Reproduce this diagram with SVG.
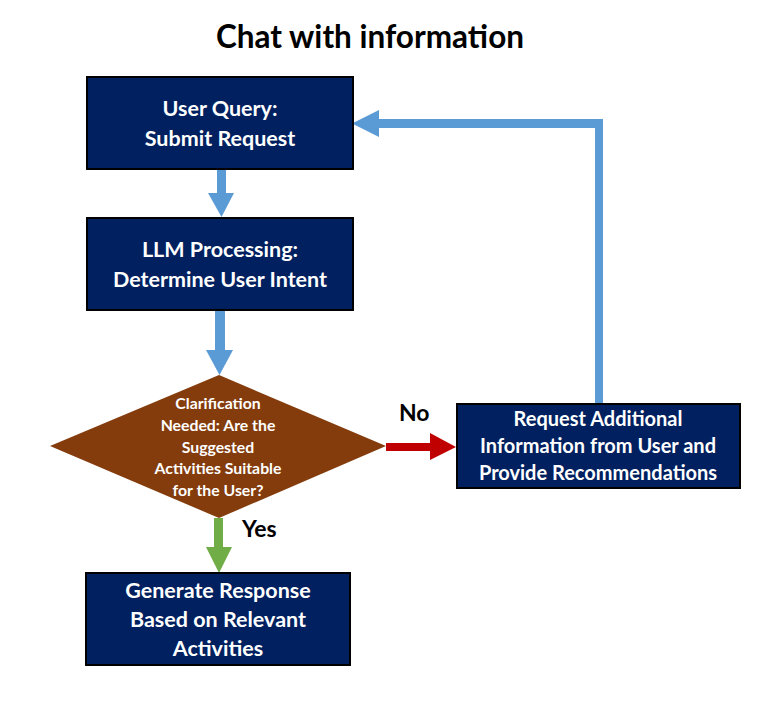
<svg xmlns="http://www.w3.org/2000/svg" width="768" height="703" viewBox="0 0 768 703">
<style>
.box{fill:#002060;stroke:#000;stroke-width:2}
.t{font-family:Lato,"Liberation Sans",sans-serif;font-weight:bold;fill:#fff;text-anchor:middle}
.b{font-size:21.5px}
.d{font-size:15.8px}
.lbl{font-family:Lato,"Liberation Sans",sans-serif;font-weight:bold;fill:#000;font-size:23px}
</style>
<rect width="768" height="703" fill="#fff"/>
<text x="370" y="48" class="lbl" style="font-size:31.5px" text-anchor="middle">Chat with information</text>
<g id="connectors">
<polygon fill="#5B9BD5" points="217,169 226,169 226,193 234,193 221.5,217 208,193 217,193"/>
<polygon fill="#5B9BD5" points="215,310 225,310 225,350 233,350 219.5,375 206,350 215,350"/>
<polygon fill="#C00000" points="386,443 430,443 430,433 456,447 430,460 430,451 386,451"/>
<polygon fill="#70AD47" points="214,518 223,518 223,547 232,547 219,573 206,547 214,547"/>
<polygon fill="#5B9BD5" points="595,404 603,404 603,119 379,119 379,110 352,123.5 379,137 379,128 595,128"/>
<text x="399" y="421" class="lbl">No</text>
<text x="242" y="537" class="lbl">Yes</text>
</g>
<g id="n1"><rect class="box" x="87" y="77" width="266" height="92"/>
<text class="t b" x="220" y="116">User Query:</text><text class="t b" x="220" y="146">Submit Request</text></g>
<g id="n2"><rect class="box" x="87" y="218" width="266" height="92"/>
<text class="t b" x="220" y="257">LLM Processing:</text><text class="t b" x="220" y="287">Determine User Intent</text></g>
<g id="n3"><polygon fill="#843C0C" points="50,446 219,375 386,446 219,518"/>
<text class="t d" x="218" y="409">Clarification</text>
<text class="t d" x="218" y="431">Needed: Are the</text>
<text class="t d" x="218" y="453">Suggested</text>
<text class="t d" x="218" y="474">Activities Suitable</text>
<text class="t d" x="218" y="496">for the User?</text></g>
<g id="n4"><rect class="box" x="457" y="404" width="283" height="84"/>
<text class="t" style="font-size:20px" x="598" y="426">Request Additional</text>
<text class="t" style="font-size:20px" x="598" y="453">Information from User and</text>
<text class="t" style="font-size:20px" x="598" y="480">Provide Recommendations</text></g>
<g id="n5"><rect class="box" x="86" y="573" width="264" height="92"/>
<text class="t b" x="218" y="598">Generate Response</text>
<text class="t b" x="218" y="627">Based on Relevant</text>
<text class="t b" x="218" y="656">Activities</text></g>
</svg>
